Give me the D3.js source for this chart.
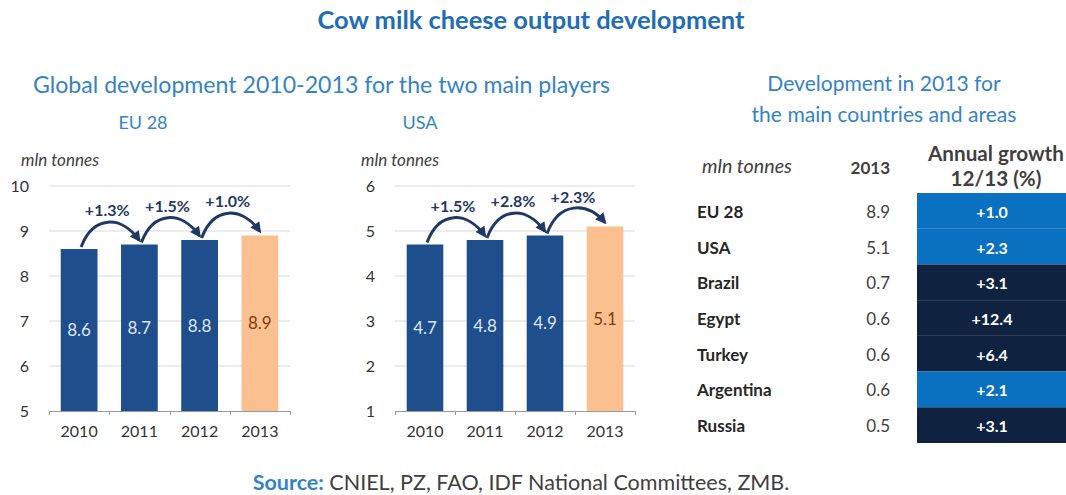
<!DOCTYPE html>
<html>
<head>
<meta charset="utf-8">
<script src="https://cdn.jsdelivr.net/npm/d3@7/dist/d3.min.js"></script>
<style>
  html, body { margin: 0; padding: 0; background: #fff; }
  svg { display: block; font-family: Lato, "Open Sans", sans-serif; }
</style>
</head>
<body>
<svg id="chart" width="1066" height="495"></svg>
<script>
// ---- data ----
const years = ["2010", "2011", "2012", "2013"];
const euValues = [8.6, 8.7, 8.8, 8.9];
const usaValues = [4.7, 4.8, 4.9, 5.1];
const euGrowth = [1.3, 1.5, 1.0];
const usaGrowth = [1.5, 2.8, 2.3];
const euTicks = [5, 6, 7, 8, 9, 10];
const usaTicks = [1, 2, 3, 4, 5, 6];

const countries = ["EU 28", "USA", "Brazil", "Egypt", "Turkey", "Argentina", "Russia"];
const output2013 = [8.9, 5.1, 0.7, 0.6, 0.6, 0.6, 0.5];
const growth1213 = [1.0, 2.3, 3.1, 12.4, 6.4, 2.1, 3.1];

// ---- styles ----
const C = {
  title: "#1f6db5",
  heading: "#3483c6",
  bar: "#1f4e8c",
  barLast: "#fac090",
  barLabel: "#dce6f2",
  barLabelLast: "#843c0c",
  arrow: "#1f3864",
  grid: "#d9d9d9",
  axis: "#9a9a9a",
  text: "#404040",
  cellLight: "#0a70c0",
  cellDark: "#0f2341"
};

const svg = d3.select("#chart");

// scale a text's font size so that it spans the given width
function fitWidth(sel, w) {
  const len = sel.node().getComputedTextLength();
  const fs = parseFloat(sel.attr("font-size"));
  sel.attr("font-size", (fs * w / len).toFixed(2));
  return sel;
}

// ---- headings ----
fitWidth(svg.append("text")
  .attr("x", 531).attr("y", 29).attr("text-anchor", "middle")
  .attr("font-size", 20).attr("font-weight", "bold").attr("fill", C.title)
  .text("Cow milk cheese output development"), 427);

fitWidth(svg.append("text")
  .attr("x", 33).attr("y", 93)
  .attr("font-size", 18).attr("fill", C.heading)
  .text("Global development 2010-2013 for the two main players"), 577);

const rh1 = svg.append("text")
  .attr("x", 884).attr("y", 91).attr("text-anchor", "middle")
  .attr("font-size", 18).attr("fill", C.heading)
  .text("the main countries and areas");
fitWidth(rh1, 265);
const rhSize = rh1.attr("font-size");
rh1.attr("y", 122);
svg.append("text")
  .attr("x", 884).attr("y", 91).attr("text-anchor", "middle")
  .attr("font-size", rhSize).attr("fill", C.heading)
  .text("Development in 2013 for");

// ---- bar panels ----
const defs = svg.append("defs");
defs.append("marker")
  .attr("id", "arrowhead")
  .attr("viewBox", "0 0 10 10")
  .attr("refX", 8).attr("refY", 5)
  .attr("markerWidth", 12).attr("markerHeight", 11)
  .attr("markerUnits", "userSpaceOnUse")
  .attr("orient", "auto")
  .append("path")
  .attr("d", "M0,0 L10,5 L0,10 Z")
  .attr("fill", C.arrow);

function barPanel(cfg) {
  const g = svg.append("g");
  const x = d3.scaleBand().domain(years).range([cfg.x0, cfg.x1])
    .paddingInner(0.39).paddingOuter(0.195);
  const y = d3.scaleLinear().domain(cfg.domain).range([411, 186]);

  // panel name
  g.append("text")
    .attr("x", cfg.nameX).attr("y", 129)
    .attr("text-anchor", "middle")
    .attr("font-size", 18).attr("fill", C.heading)
    .text(cfg.name);

  // unit label
  fitWidth(g.append("text")
    .attr("x", cfg.unitX).attr("y", 166)
    .attr("font-size", 12).attr("font-style", "italic").attr("fill", C.text)
    .text("mln tonnes"), 78);

  // gridlines
  g.append("g").selectAll("line")
    .data(cfg.ticks.slice(1))
    .join("line")
    .attr("x1", cfg.x0).attr("x2", cfg.x1)
    .attr("y1", d => y(d)).attr("y2", d => y(d))
    .attr("stroke", C.grid).attr("stroke-width", 1);

  // y axis labels
  const ya = g.append("g")
    .attr("transform", `translate(${cfg.x0},0)`)
    .call(d3.axisLeft(y).tickValues(cfg.ticks).tickSize(0).tickPadding(20).tickFormat(d3.format("d")));
  ya.select(".domain").remove();
  ya.selectAll("text")
    .attr("font-family", "Lato, sans-serif")
    .attr("font-size", 16).attr("fill", "#333");

  // bars
  g.append("g").selectAll("rect")
    .data(cfg.values)
    .join("rect")
    .attr("x", (d, i) => x(years[i]))
    .attr("y", d => y(d))
    .attr("width", x.bandwidth())
    .attr("height", d => y(cfg.domain[0]) - y(d))
    .attr("fill", (d, i) => i === years.length - 1 ? C.barLast : C.bar);

  // value labels at bar centres
  g.append("g").selectAll("text")
    .data(cfg.values)
    .join("text")
    .attr("x", (d, i) => x(years[i]) + x.bandwidth() / 2)
    .attr("y", d => (y(d) + y(cfg.domain[0])) / 2 + 6)
    .attr("text-anchor", "middle")
    .attr("font-size", 17)
    .attr("fill", (d, i) => i === years.length - 1 ? C.barLabelLast : C.barLabel)
    .text(d => d.toFixed(1));

  // x axis: baseline with ticks at band edges
  const base = y(cfg.domain[0]);
  g.append("line")
    .attr("x1", cfg.x0).attr("x2", cfg.x1)
    .attr("y1", base + 0.5).attr("y2", base + 0.5)
    .attr("stroke", C.axis).attr("stroke-width", 1);
  const edges = years.map(d => x(d) - x.step() * 0.195).concat([cfg.x1]);
  g.append("g").selectAll("line")
    .data(edges)
    .join("line")
    .attr("x1", d => Math.round(d) + 0.5).attr("x2", d => Math.round(d) + 0.5)
    .attr("y1", base).attr("y2", base + 4)
    .attr("stroke", C.axis);

  g.append("g").selectAll("text")
    .data(years)
    .join("text")
    .attr("x", d => x(d) + x.bandwidth() / 2)
    .attr("y", 437)
    .attr("text-anchor", "middle")
    .attr("font-size", 16).attr("fill", "#333")
    .text(d => d);

  // growth arrows between consecutive years
  cfg.growth.forEach((gr, i) => {
    const sx = x(years[i]) + x.bandwidth() / 2 + 2;
    const sy = y(cfg.values[i]) - 2;
    const ex = x(years[i + 1]) + x.bandwidth() / 2;
    const ey = y(cfg.values[i + 1]) - 4;
    const cy = sy - 32;
    g.append("path")
      .attr("d", `M${sx},${sy} C${sx + 12},${cy} ${ex - 18},${cy} ${ex},${ey}`)
      .attr("fill", "none")
      .attr("stroke", C.arrow).attr("stroke-width", 3)
      .attr("marker-end", "url(#arrowhead)");
    g.append("text")
      .attr("x", (sx + ex) / 2 - 3)
      .attr("y", y(cfg.values[i]) - 33)
      .attr("text-anchor", "middle")
      .attr("font-size", 16).attr("font-weight", "bold").attr("fill", C.arrow)
      .text("+" + gr.toFixed(1) + "%");
  });
}

barPanel({ name: "EU 28", nameX: 143, x0: 49, x1: 290, domain: [5, 10], ticks: euTicks,
  values: euValues, growth: euGrowth, unitX: 21 });
barPanel({ name: "USA", nameX: 420, x0: 395, x1: 635, domain: [1, 6], ticks: usaTicks,
  values: usaValues, growth: usaGrowth, unitX: 361 });

// ---- country table ----
const t = svg.append("g");
const row = d3.scaleBand().domain(countries).range([193, 443]);
const cellColor = d3.scaleThreshold().domain([3]).range([C.cellLight, C.cellDark]);

fitWidth(t.append("text")
  .attr("x", 702).attr("y", 173)
  .attr("font-size", 14).attr("font-style", "italic").attr("fill", C.text)
  .text("mln tonnes"), 90);
t.append("text")
  .attr("x", 890).attr("y", 174).attr("text-anchor", "end")
  .attr("font-size", 17).attr("font-weight", "bold").attr("fill", C.text)
  .text("2013");
const ag = t.append("text")
  .attr("x", 996).attr("y", 161).attr("text-anchor", "middle")
  .attr("font-size", 17).attr("font-weight", "bold").attr("fill", C.text)
  .text("Annual growth");
fitWidth(ag, 136);
t.append("text")
  .attr("x", 996).attr("y", 186).attr("text-anchor", "middle")
  .attr("font-size", ag.attr("font-size")).attr("font-weight", "bold").attr("fill", C.text)
  .text("12/13 (%)");

t.append("g").selectAll("rect")
  .data(growth1213)
  .join("rect")
  .attr("x", 917).attr("width", 149)
  .attr("y", (d, i) => row(countries[i]))
  .attr("height", row.bandwidth())
  .attr("fill", d => cellColor(d));

t.append("g").selectAll("text")
  .data(countries)
  .join("text")
  .attr("x", 697).attr("y", d => row(d) + row.bandwidth() / 2 + 7)
  .attr("font-size", 17).attr("font-weight", "bold").attr("fill", "#262626")
  .text(d => d);

t.append("g").selectAll("text")
  .data(output2013)
  .join("text")
  .attr("x", 890).attr("y", (d, i) => row(countries[i]) + row.bandwidth() / 2 + 7)
  .attr("text-anchor", "end")
  .attr("font-size", 17).attr("fill", C.text)
  .text(d => d.toFixed(1));

t.append("g").selectAll("text")
  .data(growth1213)
  .join("text")
  .attr("x", 992).attr("y", (d, i) => row(countries[i]) + row.bandwidth() / 2 + 7)
  .attr("text-anchor", "middle")
  .attr("font-size", 16).attr("font-weight", "bold").attr("fill", "#ffffff")
  .text(d => "+" + d.toFixed(1));

// ---- source line ----
const src = svg.append("text")
  .attr("x", 521).attr("y", 490).attr("text-anchor", "middle")
  .attr("font-size", 18);
src.append("tspan").attr("fill", C.heading).attr("font-weight", "bold").text("Source:");
src.append("tspan").attr("fill", C.text).text(" CNIEL, PZ, FAO, IDF National Committees, ZMB.");
fitWidth(src, 537);
</script>
</body>
</html>
